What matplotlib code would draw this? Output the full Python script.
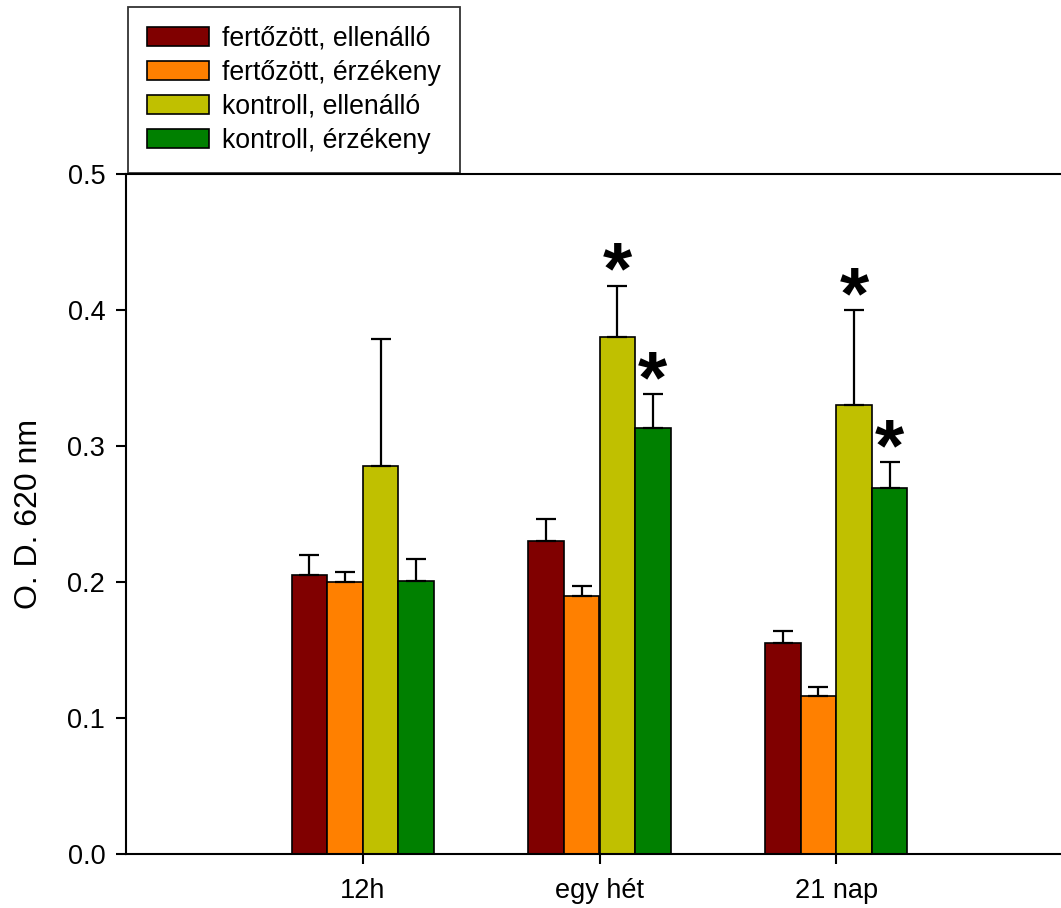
import numpy as np
from matplotlib import pyplot as plt

plt.rcParams['font.family'] = ['Liberation Sans', 'DejaVu Sans']

# categories and series
groups = ['12h', 'egy hét', '21 nap']
series = ['fertőzött, ellenálló', 'fertőzött, érzékeny',
          'kontroll, ellenálló', 'kontroll, érzékeny']
colors = ['#800000', '#ff8000', '#c0c000', '#008000']

# mean values per series (one value per group)
means = [
    [0.205, 0.230, 0.155],
    [0.200, 0.190, 0.116],
    [0.285, 0.380, 0.330],
    [0.201, 0.313, 0.269],
]
# upper error (top of bar to cap)
errs = [
    [0.015, 0.016, 0.009],
    [0.007, 0.007, 0.007],
    [0.094, 0.038, 0.070],
    [0.016, 0.025, 0.019],
]
# significance marks: (series index, group index)
stars = [(2, 1), (3, 1), (2, 2), (3, 2)]

fs = 19.5

fig = plt.figure(figsize=(10.61, 9.08), dpi=100)
ax = fig.add_axes([126 / 1061, 54 / 908, 947 / 1061, 680 / 908])

x = np.arange(len(groups))
w = 0.15
for i, name in enumerate(series):
    pos = x + (i - 1.5) * w
    ax.bar(pos, means[i], w, color=colors[i], edgecolor='black',
           linewidth=1.2, label=name, zorder=2)
    ax.errorbar(pos, means[i], yerr=[np.zeros(len(groups)), errs[i]],
                fmt='none', ecolor='black', elinewidth=1.6, capsize=7.5,
                capthick=1.6, zorder=3)

for s, g in stars:
    top = means[s][g] + errs[s][g]
    ax.text(x[g] + (s - 1.5) * w, top - 0.006, '*', ha='center',
            va='baseline', fontsize=54, fontweight='bold', zorder=4)

ax.set_xlim(-1, 3)
ax.set_ylim(0, 0.5)
ax.set_xticks(x)
ax.set_xticklabels(groups)
ax.set_yticks(np.arange(0, 0.51, 0.1))
ax.set_yticklabels(['%.1f' % v for v in np.arange(0, 0.51, 0.1)])
ax.tick_params(direction='out', length=7, width=1.5, labelsize=fs, pad=8)
ax.tick_params(axis='x', pad=10)
ax.set_ylabel('O. D. 620 nm', fontsize=23, labelpad=17)
for sp in ax.spines.values():
    sp.set_linewidth(1.5)
ax.spines['right'].set_visible(False)

leg = ax.legend(loc='lower left', bbox_to_anchor=(128 / 1061, 1 - 173 / 908),
                bbox_transform=fig.transFigure, fontsize=19.2, frameon=True,
                fancybox=False, borderpad=0.72, labelspacing=0.3,
                handlelength=2.3, handleheight=0.75, handletextpad=0.5,
                borderaxespad=0)
leg.get_frame().set_edgecolor('black')
leg.get_frame().set_linewidth(1.3)
for p in leg.get_patches():
    p.set_linewidth(1.2)

plt.savefig('out.png', dpi=100)
